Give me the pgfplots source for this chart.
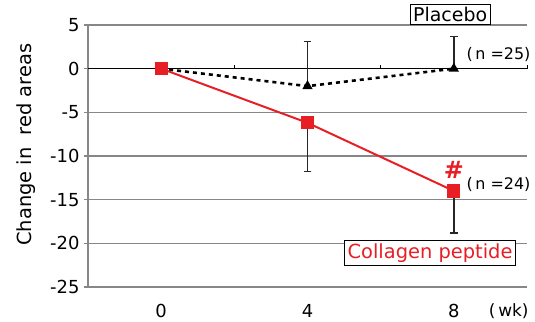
\documentclass[border=0pt]{standalone}
\usepackage{pgfplots}
\pgfplotsset{compat=1.18}
\usepackage{fontspec}
\setmainfont{DejaVu Sans}
\definecolor{cred}{RGB}{232,30,37}
\definecolor{cgrid}{RGB}{135,135,135}
\begin{document}
\begin{tikzpicture}[x=1bp,y=1bp]
\path[use as bounding box] (-88bp,-35bp) rectangle (447bp,287bp);
\begin{axis}[
  at={(0,0)}, anchor=south west,
  scale only axis, width=439bp, height=262bp,
  xmin=-2, xmax=10, ymin=-25, ymax=5,
  ytick={-25,-20,...,5},
  xtick={0,4,8},
  axis x line=none,
  axis y line*=left,
  y axis line style={cgrid, line width=1.3pt},
  ytick style={cgrid, line width=1.3pt},
  tick align=outside,
  major tick length=4bp,
  ymajorgrids, grid style={cgrid, line width=1.3pt},
  yticklabel style={font=\fontsize{18}{20}\selectfont, xshift=-1bp},
  /pgf/number format/assume math mode=true,
  clip=false,
]
\draw[black, line width=1pt] (axis cs:-2,0) -- (axis cs:10,0);
\draw[black, line width=0.8pt] (axis cs:2,0) -- ([yshift=4bp]axis cs:2,0);
\draw[black, line width=0.8pt] (axis cs:6,0) -- ([yshift=4bp]axis cs:6,0);
\draw[black, line width=0.8pt] (axis cs:10,0) -- ([yshift=4bp]axis cs:10,0);
\node[inner sep=0pt, font=\fontsize{18}{20}\selectfont] at ([yshift=-24bp]axis cs:0,-25) {0};
\node[inner sep=0pt, font=\fontsize{18}{20}\selectfont] at ([yshift=-24bp]axis cs:4,-25) {4};
\node[inner sep=0pt, font=\fontsize{18}{20}\selectfont] at ([yshift=-24bp]axis cs:8,-25) {8};
\node[inner sep=0pt, font=\fontsize{17}{20}\selectfont] at ([yshift=-24bp]axis cs:9.5,-25) {(\,wk)};
\node[rotate=90, font=\fontsize{19.5}{22}\selectfont] at ([xshift=-62bp]axis cs:-2,-8.7) {Change in\ \ red areas};
% Placebo
\addplot[black, line width=2.6pt, dash pattern=on 4bp off 4bp,
  mark=triangle*, mark options={solid, black, scale=1.7},
  error bars/.cd, y dir=plus, y explicit,
  error bar style={solid, line width=1.5pt, black!85},
  error mark options={rotate=90, mark size=3.8bp, line width=1.5pt, black!85}]
  coordinates {(0,0) +- (0,0) (4,-2.0) +- (0,5.1) (8,0) +- (0,3.7)};
% Collagen peptide
\addplot[cred, line width=2pt,
  mark=square*, mark options={cred, mark size=5.6bp},
  error bars/.cd, y dir=minus, y explicit,
  error bar style={line width=1.5pt, black!85},
  error mark options={rotate=90, mark size=3.8bp, line width=1.5pt, black!85}]
  coordinates {(0,0) +- (0,0) (4,-6.2) +- (0,5.6) (8,-14.0) +- (0,4.8)};
\node[draw=black, fill=white, line width=0.8pt, inner sep=3bp, font=\fontsize{19}{20}\selectfont] at (axis cs:7.9,6.2) {Placebo};
\node[anchor=west, font=\fontsize{16}{20}\selectfont] at (axis cs:8.25,1.6) {(\,n =25)};
\node[anchor=west, font=\fontsize{16}{20}\selectfont] at (axis cs:8.25,-13.3) {(\,n =24)};
\node[text=cred, font=\bfseries\fontsize{24}{26}\selectfont] at (axis cs:8,-11.6) {\#};
\node[draw=black, fill=white, line width=0.8pt, inner sep=3bp, text=cred, font=\fontsize{19.5}{20}\selectfont] at (axis cs:7.35,-21.1) {Collagen peptide};
\end{axis}
\end{tikzpicture}
\end{document}
